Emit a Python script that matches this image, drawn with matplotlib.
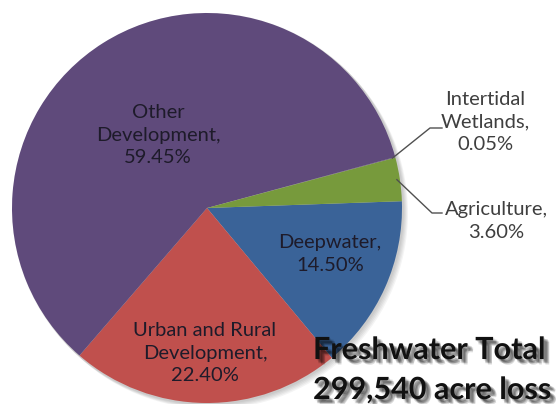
import numpy as np
import matplotlib
matplotlib.use('Agg')
import matplotlib.pyplot as plt
import matplotlib.patheffects as pe

# data (clockwise order starting at the right side)
categories = ['Deepwater', 'Urban and Rural\nDevelopment', 'Other\nDevelopment',
              'Intertidal\nWetlands', 'Agriculture']
shares = [14.50, 22.40, 59.45, 0.05, 3.60]
colors = ['#3A6398', '#C0504D', '#5F4A7B', '#5F4A7B', '#779A3C']
title_lines = ['Freshwater Total', '299,540 acre loss']

W, H = 559, 404
fig = plt.figure(figsize=(W / 100, H / 100), dpi=100)
ax = fig.add_axes([0, 0, 1, 1])

cx, cy, R = 207, H - 208, 195

# soft shadow behind the pie
for i in range(5):
    ax.add_patch(plt.Circle((cx + 1 + i, cy - 1 - i), R + 1, color='black',
                            alpha=0.045, lw=0, zorder=0))

wedges, _ = ax.pie(shares, colors=colors, startangle=2, counterclock=False,
                   center=(cx, cy), radius=R, frame=True,
                   wedgeprops=dict(linewidth=0))
for w in wedges:
    w.set_zorder(1)
ax.set_xlim(0, W)
ax.set_ylim(0, H)
ax.set_aspect('equal')
ax.axis('off')

font = 'Lato'
inner_color = '#1E1B2A'
outer_color = '#3F3F3F'
fs = 14.5


def label(i):
    return '{},\n{:.2f}%'.format(categories[i], shares[i])


# labels inside the pie
inside_pos = {2: (158, H - 135), 1: (205, H - 353), 0: (330, H - 254)}
for i, (x, y) in inside_pos.items():
    ax.text(x, y, label(i), ha='center', va='center', fontsize=fs,
            family=font, color=inner_color, linespacing=1.4, zorder=3)

# outside labels with leader lines
outside = {3: ((485, H - 122), (430, H - 128), (442, H - 128)),
           4: ((496, H - 221), (432, H - 213), (442, H - 213))}
for i, (txt_pos, elbow, end) in outside.items():
    w = wedges[i]
    mid = np.deg2rad((w.theta1 + w.theta2) / 2)
    p0 = (cx + (R - 3) * np.cos(mid), cy + (R - 3) * np.sin(mid))
    ax.plot([p0[0], elbow[0], end[0]], [p0[1], elbow[1], end[1]],
            color='#505050', lw=1, zorder=2)
    ax.text(txt_pos[0], txt_pos[1], label(i), ha='center', va='center',
            fontsize=fs, family=font, color=outer_color, linespacing=1.4,
            zorder=3)

# total text with a blurred drop shadow
shadow = [pe.SimplePatchShadow(offset=(dx, -dy), shadow_rgbFace='black', alpha=0.13)
          for dx, dy in [(1, 1), (2, 2), (3, 3), (4, 4), (2, 3), (3, 2), (4, 3)]]
for txt, y in zip(title_lines, [H - 350, H - 390]):
    ax.text(313, y, txt, ha='left', va='center', fontsize=22,
            fontweight='bold', family=font, color='#111111', zorder=4,
            path_effects=shadow + [pe.Normal()])

fig.savefig('out.png', dpi=100)
